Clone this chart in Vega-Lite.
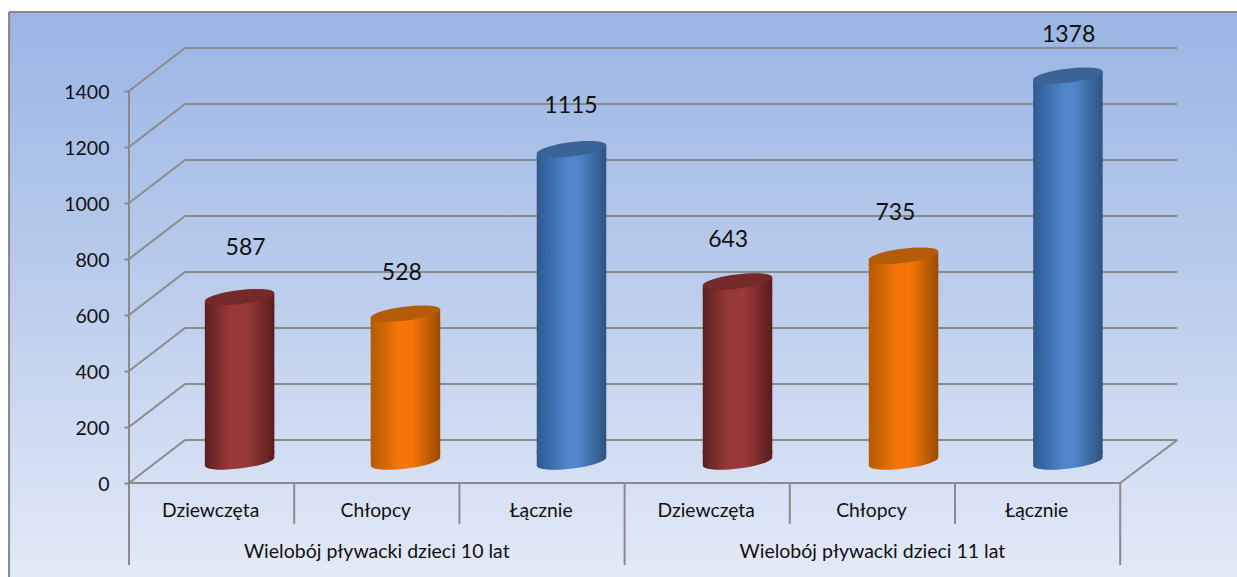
{
"$schema":"https://vega.github.io/schema/vega-lite/v6.json",
"width":1237,"height":577,"autosize":{"type":"none"},"padding":0,"background":"white",
"config":{"view":{"stroke":null},"font":"Lato","text":{"font":"Lato","color":"#111111"},"axisY":{"grid":false,"domain":false}},
"datasets":{
"panel":[{"name":"tlo"}],
"ticks":[{"v":0},{"v":200},{"v":400},{"v":600},{"v":800},{"v":1000},{"v":1200},{"v":1400}],
"major":[{"at":0},{"at":3},{"at":6}],
"minor":[{"at":1},{"at":2},{"at":4},{"at":5}],
"groups":[{"pos":1.5,"label":"Wielobój pływacki dzieci 10 lat"},{"pos":4.5,"label":"Wielobój pływacki dzieci 11 lat"}],
"bars":[
{"grupa":"10 lat","kategoria":"Dziewczęta","pos":0.5,"barAt":0.5,"value":587},
{"grupa":"10 lat","kategoria":"Chłopcy","pos":1.5,"barAt":1.504,"value":528},
{"grupa":"10 lat","kategoria":"Łącznie","pos":2.5,"barAt":2.509,"value":1115},
{"grupa":"11 lat","kategoria":"Dziewczęta","pos":3.5,"barAt":3.514,"value":643},
{"grupa":"11 lat","kategoria":"Chłopcy","pos":4.5,"barAt":4.519,"value":735},
{"grupa":"11 lat","kategoria":"Łącznie","pos":5.5,"barAt":5.514,"value":1378}
]},
"layer":[
{"data":{"name":"panel"},
 "mark":{"type":"rect","fill":{"gradient":"linear","x1":0,"y1":0,"x2":0,"y2":1,"stops":[{"offset":0,"color":"#9ab5e4"},{"offset":0.5,"color":"#bccdec"},{"offset":1,"color":"#e3eaf7"}]}},
 "encoding":{"x":{"datum":-0.726,"type":"quantitative","scale":{"domain":[-0.7809,6.707],"nice":false,"zero":false,"padding":0},"axis":null},"x2":{"datum":6.707},"y":{"datum":1682,"type":"quantitative","scale":{"domain":[-335.7,1725],"nice":false,"zero":false},
   "axis":{"values":[0,200,400,600,800,1000,1200,1400],"format":"d","offset":-129,"zindex":1,"title":null,"tickColor":"#8a8a8a","tickWidth":2,"tickSize":5,"labelFontSize":19.5,"labelFont":"Lato","labelColor":"#111111","labelPadding":15,"labelOffset":1.5}},"y2":{"datum":-335.7}}},
{"data":{"name":"panel"},
 "mark":{"type":"rule","color":"#868686","strokeWidth":2},
 "encoding":{"x":{"datum":-0.726,"type":"quantitative","scale":{"domain":[-0.7809,6.707],"nice":false,"zero":false,"padding":0},"axis":null},"x2":{"datum":6.707},"y":{"datum":1682,"type":"quantitative","scale":{"domain":[-335.7,1725],"nice":false,"zero":false},"axis":{"title":null}}}},
{"data":{"name":"panel"},
 "mark":{"type":"rule","color":"#868686","strokeWidth":2},
 "encoding":{"x":{"datum":-0.726,"type":"quantitative","scale":{"domain":[-0.7809,6.707],"nice":false,"zero":false,"padding":0},"axis":null},"y":{"datum":1682,"type":"quantitative","scale":{"domain":[-335.7,1725],"nice":false,"zero":false},"axis":{"title":null}},"y2":{"datum":-335.7}}},
{"data":{"name":"ticks"},
 "mark":{"type":"rule","color":"#8a8a8a","strokeWidth":2,"xOffset":56,"x2Offset":57,"yOffset":-43},
 "encoding":{"x":{"datum":0,"type":"quantitative","scale":{"domain":[-0.7809,6.707],"nice":false,"zero":false,"padding":0},"axis":null},"x2":{"datum":6},
  "y":{"field":"v","type":"quantitative","scale":{"domain":[-335.7,1725],"nice":false,"zero":false},"axis":{"title":null}}}},
{"data":{"name":"ticks"},
 "mark":{"type":"rule","color":"#8a8a8a","strokeWidth":2,"x2Offset":56,"y2Offset":-43},
 "encoding":{"x":{"datum":0,"type":"quantitative","scale":{"domain":[-0.7809,6.707],"nice":false,"zero":false,"padding":0},"axis":null},"x2":{"datum":0},
  "y":{"field":"v","type":"quantitative","scale":{"domain":[-335.7,1725],"nice":false,"zero":false},"axis":{"title":null}},"y2":{"field":"v"}}},
{"data":{"name":"panel"},
 "mark":{"type":"rule","color":"#8a8a8a","strokeWidth":2,"x2Offset":57,"y2Offset":-43},
 "encoding":{"x":{"datum":6,"type":"quantitative","scale":{"domain":[-0.7809,6.707],"nice":false,"zero":false,"padding":0},"axis":null},"x2":{"datum":6},
  "y":{"datum":0,"type":"quantitative","scale":{"domain":[-335.7,1725],"nice":false,"zero":false},"axis":{"title":null}},"y2":{"datum":0}}},
{"data":{"name":"panel"},
 "mark":{"type":"rule","color":"#8a8a8a","strokeWidth":2},
 "encoding":{"x":{"datum":0,"type":"quantitative","scale":{"domain":[-0.7809,6.707],"nice":false,"zero":false,"padding":0},"axis":null},"x2":{"datum":6},
  "y":{"datum":0,"type":"quantitative","scale":{"domain":[-335.7,1725],"nice":false,"zero":false},"axis":{"title":null}}}},
{"data":{"name":"panel"},
 "mark":{"type":"rule","color":"#8a8a8a","strokeWidth":2},
 "encoding":{"x":{"datum":0,"type":"quantitative","scale":{"domain":[-0.7809,6.707],"nice":false,"zero":false,"padding":0},"axis":null},
  "y":{"datum":0,"type":"quantitative","scale":{"domain":[-335.7,1725],"nice":false,"zero":false},"axis":{"title":null}},"y2":{"datum":1400}}},
{"data":{"name":"major"},
 "mark":{"type":"rule","color":"#8a8a8a","strokeWidth":2},
 "encoding":{"x":{"field":"at","type":"quantitative","scale":{"domain":[-0.7809,6.707],"nice":false,"zero":false,"padding":0},"axis":null},
  "y":{"datum":0,"type":"quantitative","scale":{"domain":[-335.7,1725],"nice":false,"zero":false},"axis":{"title":null}},"y2":{"datum":-293}}},
{"data":{"name":"minor"},
 "mark":{"type":"rule","color":"#8a8a8a","strokeWidth":2},
 "encoding":{"x":{"field":"at","type":"quantitative","scale":{"domain":[-0.7809,6.707],"nice":false,"zero":false,"padding":0},"axis":null},
  "y":{"datum":0,"type":"quantitative","scale":{"domain":[-335.7,1725],"nice":false,"zero":false},"axis":{"title":null}},"y2":{"datum":-146}}},

{"data":{"name":"bars"},"transform":[{"filter":"datum.kategoria==='Dziewczęta'"}],
 "layer":[
 {"mark":{"type":"bar","orient":"vertical","width":69.5,"xOffset":28,"x2Offset":28,"yOffset":-13.5,"y2Offset":-29.5,"fill":{"gradient":"linear","x1":0,"y1":0,"x2":1,"y2":0,"stops":[{"offset":0,"color":"#5a1f1f"},{"offset":0.35,"color":"#963836"},{"offset":0.6,"color":"#9a3a38"},{"offset":1,"color":"#5a1c1c"}]}},
  "encoding":{"x":{"field":"barAt","type":"quantitative","scale":{"domain":[-0.7809,6.707],"nice":false,"zero":false,"padding":0},"axis":null},"y":{"field":"value","type":"quantitative","stack":null,"scale":{"domain":[-335.7,1725],"nice":false,"zero":false},"axis":{"title":null}},"y2":{"datum":0}}},
 {"mark":{"type":"point","filled":true,"opacity":1,"size":4900,"xOffset":28,"yOffset":-21.5,"shape":"M-0.9925,-0.3 L0.9925,-0.3 L0.9925,-0.1219 A1,0.2,-7,1,1,-0.9925,0.1219 Z","fill":{"gradient":"linear","x1":0,"y1":0,"x2":1,"y2":0,"stops":[{"offset":0,"color":"#5a1f1f"},{"offset":0.35,"color":"#963836"},{"offset":0.6,"color":"#9a3a38"},{"offset":1,"color":"#5a1c1c"}]}},
  "encoding":{"x":{"field":"barAt","type":"quantitative","scale":{"domain":[-0.7809,6.707],"nice":false,"zero":false,"padding":0},"axis":null},"y":{"datum":0,"type":"quantitative","scale":{"domain":[-335.7,1725],"nice":false,"zero":false},"axis":{"title":null}}}},
 {"mark":{"type":"point","filled":true,"opacity":1,"size":4900,"xOffset":28,"yOffset":-21.5,"shape":"M-0.9925,0.1219 L-0.9925,0.3 L0.9925,0.3 L0.9925,-0.1219 Z","fill":{"gradient":"linear","x1":0,"y1":0,"x2":1,"y2":0,"stops":[{"offset":0,"color":"#5a1f1f"},{"offset":0.35,"color":"#963836"},{"offset":0.6,"color":"#9a3a38"},{"offset":1,"color":"#5a1c1c"}]}},
  "encoding":{"x":{"field":"barAt","type":"quantitative","scale":{"domain":[-0.7809,6.707],"nice":false,"zero":false,"padding":0},"axis":null},"y":{"field":"value","type":"quantitative","scale":{"domain":[-335.7,1725],"nice":false,"zero":false},"axis":{"title":null}}}},
 {"mark":{"type":"point","filled":true,"opacity":1,"size":4900,"xOffset":28,"yOffset":-21.5,"color":"#732a28","shape":"M-0.9925,0.1219 A1,0.2,-7,1,1,0.9925,-0.1219 A1,0.2,-7,1,1,-0.9925,0.1219 Z"},
  "encoding":{"x":{"field":"barAt","type":"quantitative","scale":{"domain":[-0.7809,6.707],"nice":false,"zero":false,"padding":0},"axis":null},"y":{"field":"value","type":"quantitative","scale":{"domain":[-335.7,1725],"nice":false,"zero":false},"axis":{"title":null}}}}
 ]},

{"data":{"name":"bars"},"transform":[{"filter":"datum.kategoria==='Chłopcy'"}],
 "layer":[
 {"mark":{"type":"bar","orient":"vertical","width":69.5,"xOffset":28,"x2Offset":28,"yOffset":-13.5,"y2Offset":-29.5,"fill":{"gradient":"linear","x1":0,"y1":0,"x2":1,"y2":0,"stops":[{"offset":0,"color":"#b35a02"},{"offset":0.4,"color":"#f4750a"},{"offset":0.6,"color":"#f4750a"},{"offset":1,"color":"#9a4c00"}]}},
  "encoding":{"x":{"field":"barAt","type":"quantitative","scale":{"domain":[-0.7809,6.707],"nice":false,"zero":false,"padding":0},"axis":null},"y":{"field":"value","type":"quantitative","stack":null,"scale":{"domain":[-335.7,1725],"nice":false,"zero":false},"axis":{"title":null}},"y2":{"datum":0}}},
 {"mark":{"type":"point","filled":true,"opacity":1,"size":4900,"xOffset":28,"yOffset":-21.5,"shape":"M-0.9925,-0.3 L0.9925,-0.3 L0.9925,-0.1219 A1,0.2,-7,1,1,-0.9925,0.1219 Z","fill":{"gradient":"linear","x1":0,"y1":0,"x2":1,"y2":0,"stops":[{"offset":0,"color":"#b35a02"},{"offset":0.4,"color":"#f4750a"},{"offset":0.6,"color":"#f4750a"},{"offset":1,"color":"#9a4c00"}]}},
  "encoding":{"x":{"field":"barAt","type":"quantitative","scale":{"domain":[-0.7809,6.707],"nice":false,"zero":false,"padding":0},"axis":null},"y":{"datum":0,"type":"quantitative","scale":{"domain":[-335.7,1725],"nice":false,"zero":false},"axis":{"title":null}}}},
 {"mark":{"type":"point","filled":true,"opacity":1,"size":4900,"xOffset":28,"yOffset":-21.5,"shape":"M-0.9925,0.1219 L-0.9925,0.3 L0.9925,0.3 L0.9925,-0.1219 Z","fill":{"gradient":"linear","x1":0,"y1":0,"x2":1,"y2":0,"stops":[{"offset":0,"color":"#b35a02"},{"offset":0.4,"color":"#f4750a"},{"offset":0.6,"color":"#f4750a"},{"offset":1,"color":"#9a4c00"}]}},
  "encoding":{"x":{"field":"barAt","type":"quantitative","scale":{"domain":[-0.7809,6.707],"nice":false,"zero":false,"padding":0},"axis":null},"y":{"field":"value","type":"quantitative","scale":{"domain":[-335.7,1725],"nice":false,"zero":false},"axis":{"title":null}}}},
 {"mark":{"type":"point","filled":true,"opacity":1,"size":4900,"xOffset":28,"yOffset":-21.5,"color":"#b55c08","shape":"M-0.9925,0.1219 A1,0.2,-7,1,1,0.9925,-0.1219 A1,0.2,-7,1,1,-0.9925,0.1219 Z"},
  "encoding":{"x":{"field":"barAt","type":"quantitative","scale":{"domain":[-0.7809,6.707],"nice":false,"zero":false,"padding":0},"axis":null},"y":{"field":"value","type":"quantitative","scale":{"domain":[-335.7,1725],"nice":false,"zero":false},"axis":{"title":null}}}}
 ]},

{"data":{"name":"bars"},"transform":[{"filter":"datum.kategoria==='Łącznie'"}],
 "layer":[
 {"mark":{"type":"bar","orient":"vertical","width":69.5,"xOffset":28,"x2Offset":28,"yOffset":-13.5,"y2Offset":-29.5,"fill":{"gradient":"linear","x1":0,"y1":0,"x2":1,"y2":0,"stops":[{"offset":0,"color":"#2e5a8e"},{"offset":0.45,"color":"#4f86cc"},{"offset":0.6,"color":"#4f86cc"},{"offset":1,"color":"#2d5480"}]}},
  "encoding":{"x":{"field":"barAt","type":"quantitative","scale":{"domain":[-0.7809,6.707],"nice":false,"zero":false,"padding":0},"axis":null},"y":{"field":"value","type":"quantitative","stack":null,"scale":{"domain":[-335.7,1725],"nice":false,"zero":false},"axis":{"title":null}},"y2":{"datum":0}}},
 {"mark":{"type":"point","filled":true,"opacity":1,"size":4900,"xOffset":28,"yOffset":-21.5,"shape":"M-0.9925,-0.3 L0.9925,-0.3 L0.9925,-0.1219 A1,0.2,-7,1,1,-0.9925,0.1219 Z","fill":{"gradient":"linear","x1":0,"y1":0,"x2":1,"y2":0,"stops":[{"offset":0,"color":"#2e5a8e"},{"offset":0.45,"color":"#4f86cc"},{"offset":0.6,"color":"#4f86cc"},{"offset":1,"color":"#2d5480"}]}},
  "encoding":{"x":{"field":"barAt","type":"quantitative","scale":{"domain":[-0.7809,6.707],"nice":false,"zero":false,"padding":0},"axis":null},"y":{"datum":0,"type":"quantitative","scale":{"domain":[-335.7,1725],"nice":false,"zero":false},"axis":{"title":null}}}},
 {"mark":{"type":"point","filled":true,"opacity":1,"size":4900,"xOffset":28,"yOffset":-21.5,"shape":"M-0.9925,0.1219 L-0.9925,0.3 L0.9925,0.3 L0.9925,-0.1219 Z","fill":{"gradient":"linear","x1":0,"y1":0,"x2":1,"y2":0,"stops":[{"offset":0,"color":"#2e5a8e"},{"offset":0.45,"color":"#4f86cc"},{"offset":0.6,"color":"#4f86cc"},{"offset":1,"color":"#2d5480"}]}},
  "encoding":{"x":{"field":"barAt","type":"quantitative","scale":{"domain":[-0.7809,6.707],"nice":false,"zero":false,"padding":0},"axis":null},"y":{"field":"value","type":"quantitative","scale":{"domain":[-335.7,1725],"nice":false,"zero":false},"axis":{"title":null}}}},
 {"mark":{"type":"point","filled":true,"opacity":1,"size":4900,"xOffset":28,"yOffset":-21.5,"color":"#3a6496","shape":"M-0.9925,0.1219 A1,0.2,-7,1,1,0.9925,-0.1219 A1,0.2,-7,1,1,-0.9925,0.1219 Z"},
  "encoding":{"x":{"field":"barAt","type":"quantitative","scale":{"domain":[-0.7809,6.707],"nice":false,"zero":false,"padding":0},"axis":null},"y":{"field":"value","type":"quantitative","scale":{"domain":[-335.7,1725],"nice":false,"zero":false},"axis":{"title":null}}}}
 ]},

{"data":{"name":"bars"},
 "mark":{"type":"text","fontSize":19.3,"font":"Lato","baseline":"middle","align":"center","xOffset":-1},
 "encoding":{"x":{"field":"pos","type":"quantitative","scale":{"domain":[-0.7809,6.707],"nice":false,"zero":false,"padding":0},"axis":null},"y":{"datum":-100,"type":"quantitative","scale":{"domain":[-335.7,1725],"nice":false,"zero":false},"axis":{"title":null}},"text":{"field":"kategoria"}}},
{"data":{"name":"groups"},
 "mark":{"type":"text","fontSize":19.5,"font":"Lato","baseline":"middle","align":"center"},
 "encoding":{"x":{"field":"pos","type":"quantitative","scale":{"domain":[-0.7809,6.707],"nice":false,"zero":false,"padding":0},"axis":null},"y":{"datum":-247,"type":"quantitative","scale":{"domain":[-335.7,1725],"nice":false,"zero":false},"axis":{"title":null}},"text":{"field":"label"}}},

{"data":{"name":"bars"},"transform":[{"filter":"datum.value===587"}],
 "mark":{"type":"text","fontSize":23,"font":"Lato","baseline":"middle","align":"center","xOffset":34,"yOffset":-70.5},
 "encoding":{"x":{"field":"pos","type":"quantitative","scale":{"domain":[-0.7809,6.707],"nice":false,"zero":false,"padding":0},"axis":null},"y":{"field":"value","type":"quantitative","scale":{"domain":[-335.7,1725],"nice":false,"zero":false},"axis":{"title":null}},"text":{"field":"value"}}},
{"data":{"name":"bars"},"transform":[{"filter":"datum.value===528"}],
 "mark":{"type":"text","fontSize":23,"font":"Lato","baseline":"middle","align":"center","xOffset":25,"yOffset":-62.5},
 "encoding":{"x":{"field":"pos","type":"quantitative","scale":{"domain":[-0.7809,6.707],"nice":false,"zero":false,"padding":0},"axis":null},"y":{"field":"value","type":"quantitative","scale":{"domain":[-335.7,1725],"nice":false,"zero":false},"axis":{"title":null}},"text":{"field":"value"}}},
{"data":{"name":"bars"},"transform":[{"filter":"datum.value===1115"}],
 "mark":{"type":"text","fontSize":23,"font":"Lato","baseline":"middle","align":"center","xOffset":29,"yOffset":-64.5},
 "encoding":{"x":{"field":"pos","type":"quantitative","scale":{"domain":[-0.7809,6.707],"nice":false,"zero":false,"padding":0},"axis":null},"y":{"field":"value","type":"quantitative","scale":{"domain":[-335.7,1725],"nice":false,"zero":false},"axis":{"title":null}},"text":{"field":"value"}}},
{"data":{"name":"bars"},"transform":[{"filter":"datum.value===643"}],
 "mark":{"type":"text","fontSize":23,"font":"Lato","baseline":"middle","align":"center","xOffset":21,"yOffset":-62.5},
 "encoding":{"x":{"field":"pos","type":"quantitative","scale":{"domain":[-0.7809,6.707],"nice":false,"zero":false,"padding":0},"axis":null},"y":{"field":"value","type":"quantitative","scale":{"domain":[-335.7,1725],"nice":false,"zero":false},"axis":{"title":null}},"text":{"field":"value"}}},
{"data":{"name":"bars"},"transform":[{"filter":"datum.value===735"}],
 "mark":{"type":"text","fontSize":23,"font":"Lato","baseline":"middle","align":"center","xOffset":23,"yOffset":-64.5},
 "encoding":{"x":{"field":"pos","type":"quantitative","scale":{"domain":[-0.7809,6.707],"nice":false,"zero":false,"padding":0},"axis":null},"y":{"field":"value","type":"quantitative","scale":{"domain":[-335.7,1725],"nice":false,"zero":false},"axis":{"title":null}},"text":{"field":"value"}}},
{"data":{"name":"bars"},"transform":[{"filter":"datum.value===1378"}],
 "mark":{"type":"text","fontSize":23,"font":"Lato","baseline":"middle","align":"center","xOffset":31,"yOffset":-62.5},
 "encoding":{"x":{"field":"pos","type":"quantitative","scale":{"domain":[-0.7809,6.707],"nice":false,"zero":false,"padding":0},"axis":null},"y":{"field":"value","type":"quantitative","scale":{"domain":[-335.7,1725],"nice":false,"zero":false},"axis":{"title":null}},"text":{"field":"value"}}}
]}
